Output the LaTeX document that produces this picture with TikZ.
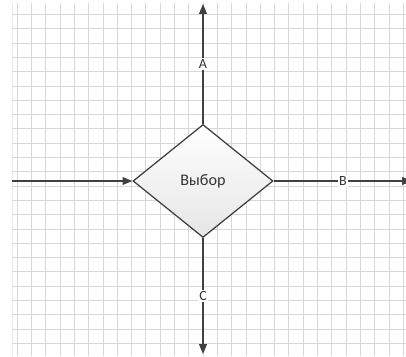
\documentclass[tikz,border=0pt]{standalone}
\usepackage{fontspec}
\setmainfont{Carlito}
\usepackage{xcolor}
\definecolor{lngray}{RGB}{64,64,64}
\definecolor{grdgray}{RGB}{216,216,216}
\usetikzlibrary{arrows.meta,positioning,shapes.geometric}

\begin{document}
\begin{tikzpicture}[x=0.025cm, y=-0.025cm,
    gridline/.style={draw=grdgray, line width=0.4pt},
    choicebox/.style={diamond, aspect=1.24, minimum width=3.5cm, minimum height=2.825cm,
      inner sep=0pt, draw=lngray, line width=0.9pt, top color=white, bottom color=black!10,
      font=\fontsize{11.5}{13}\selectfont, text=black!80},
    arr/.style={-{Triangle[length=7pt, width=5.5pt]}, line width=1pt, lngray},
    lbl/.style={fill=white, inner sep=1pt, font=\fontsize{10}{12}\selectfont, text=black!80}
  ]
  \useasboundingbox (0,0) rectangle (406,356);

  % background grid
  \draw[gridline, draw=grdgray!50] (12,3) -- (12,356);
  \foreach \i in {0,...,27}
    \draw[gridline] ({17+14.3*\i},3) -- ({17+14.3*\i},356);
  \foreach \j in {1,...,24}
    \draw[gridline] (12,{14.3*\j}) -- (406,{14.3*\j});

  \node[choicebox] (choice) at (203,181) {Выбор};

  \coordinate (inp) at (12,181);
  \coordinate (outa) at (203,4);
  \coordinate (outb) at (412,181);
  \coordinate (outc) at (203,354);

  \draw[arr] (inp) -- (choice.west);
  \draw[arr] (choice.north) -- node[lbl] {A} (outa);
  \draw[arr] (choice.east) -- node[lbl] {B} (outb);
  \draw[arr] (choice.south) -- node[lbl] {C} (outc);
\end{tikzpicture}
\end{document}
